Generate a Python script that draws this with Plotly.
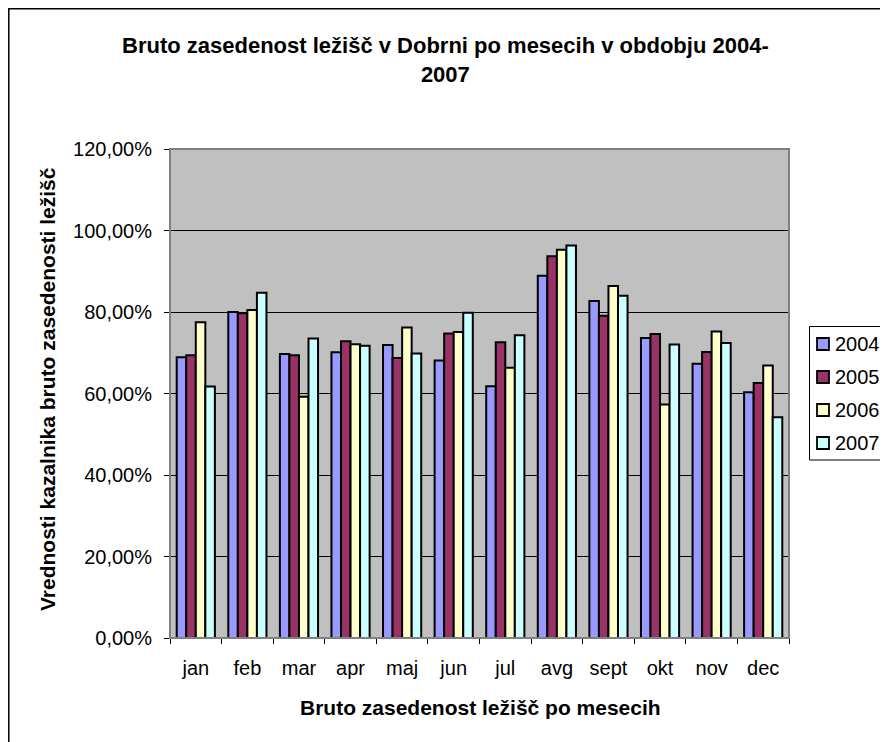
import plotly.graph_objects as go

months = ["jan", "feb", "mar", "apr", "maj", "jun", "jul", "avg", "sept", "okt", "nov", "dec"]
years = ["2004", "2005", "2006", "2007"]

occ_2004 = [0.689, 0.800, 0.697, 0.701, 0.719, 0.681, 0.618, 0.889, 0.827, 0.736, 0.673, 0.603]
occ_2005 = [0.694, 0.797, 0.694, 0.728, 0.687, 0.747, 0.726, 0.937, 0.791, 0.746, 0.702, 0.626]
occ_2006 = [0.775, 0.805, 0.592, 0.721, 0.762, 0.751, 0.663, 0.953, 0.864, 0.573, 0.752, 0.669]
occ_2007 = [0.617, 0.847, 0.735, 0.717, 0.698, 0.798, 0.743, 0.963, 0.840, 0.720, 0.724, 0.542]

series = [occ_2004, occ_2005, occ_2006, occ_2007]
colors = ["#9999FF", "#993366", "#FFFFCC", "#CCFFFF"]

y_ticks = [0, 0.2, 0.4, 0.6, 0.8, 1.0, 1.2]

FONT = "Arial, Liberation Sans, sans-serif"
OFF = 8  # page body margin
W, H = 888 - OFF, 742 - OFF
# plot area in screen pixels
L, R, T, B = 170, 789, 149, 638


def px_x(x):
    return (x - L) / (R - L)


def px_y(y):
    return (B - y) / (B - T)


fig = go.Figure()
for yr, vals, col in zip(years, series, colors):
    fig.add_trace(go.Bar(
        x=months, y=vals, name=yr, showlegend=False,
        marker=dict(color=col, line=dict(color="black", width=2)),
    ))

shapes = [
    # grey plot-area frame (top/right)
    dict(type="rect", xref="paper", yref="paper", x0=0, x1=1, y0=0, y1=1,
         line=dict(color="#808080", width=2), layer="above"),
    # outer chart frame
    dict(type="rect", xref="paper", yref="paper",
         x0=px_x(8.8), x1=px_x(920), y0=px_y(780), y1=px_y(8.8),
         line=dict(color="black", width=1.5)),
    # legend box
    dict(type="rect", xref="paper", yref="paper",
         x0=px_x(809.5), x1=px_x(920), y0=px_y(460), y1=px_y(326.5),
         line=dict(color="black", width=1), fillcolor="white"),
]
annotations = [
    dict(text="<b>Bruto zasedenost ležišč v Dobrni po mesecih v obdobju 2004-<br>2007</b>",
         xref="paper", yref="paper", x=px_x(445), y=px_y(60),
         xanchor="center", yanchor="middle", showarrow=False,
         font=dict(size=22, family=FONT), align="center"),
    dict(text="<b>Vrednosti kazalnika bruto zasedenosti ležišč</b>",
         xref="paper", yref="paper", x=px_x(47), y=px_y(389),
         xanchor="center", yanchor="middle", showarrow=False,
         textangle=-90, font=dict(size=21, family=FONT)),
    dict(text="<b>Bruto zasedenost ležišč po mesecih</b>",
         xref="paper", yref="paper", x=px_x(480), y=px_y(707),
         xanchor="center", yanchor="middle", showarrow=False,
         font=dict(size=21, family=FONT)),
]

# legend entries drawn by hand so the box can run off the right edge like the original
for i, (yr, col) in enumerate(zip(years, colors)):
    cy = 344 + i * 33
    shapes.append(dict(type="rect", xref="paper", yref="paper",
                       x0=px_x(817), x1=px_x(829), y0=px_y(cy + 6), y1=px_y(cy - 6),
                       fillcolor=col, line=dict(color="black", width=1.8)))
    annotations.append(dict(text=yr, xref="paper", yref="paper",
                            x=px_x(833), y=px_y(cy), xanchor="left", yanchor="middle",
                            showarrow=False, font=dict(size=20, family=FONT)))

fig.update_layout(
    width=W, height=H,
    margin=dict(l=L - OFF, r=W - (R - OFF), t=T - OFF, b=H - (B - OFF), autoexpand=False),
    paper_bgcolor="white",
    plot_bgcolor="#C0C0C0",
    separators=", ",
    barmode="group",
    bargap=0.26,
    bargroupgap=0,
    font=dict(family=FONT, size=20, color="black"),
    showlegend=False,
    xaxis=dict(
        showgrid=False, ticks="outside", tickson="boundaries", ticklen=5,
        tickcolor="black", showline=True, linecolor="black", linewidth=1,
        tickfont=dict(size=20), ticklabelstandoff=12,
    ),
    yaxis=dict(
        range=[0, 1.2], tickvals=y_ticks, tickformat=".2%",
        showgrid=True, gridcolor="black", gridwidth=1,
        ticks="outside", ticklen=5, tickcolor="black",
        showline=True, linecolor="black", linewidth=1,
        tickfont=dict(size=20), zeroline=False, ticklabelstandoff=8,
    ),
    shapes=shapes,
    annotations=annotations,
)

fig.write_html("out.html")
